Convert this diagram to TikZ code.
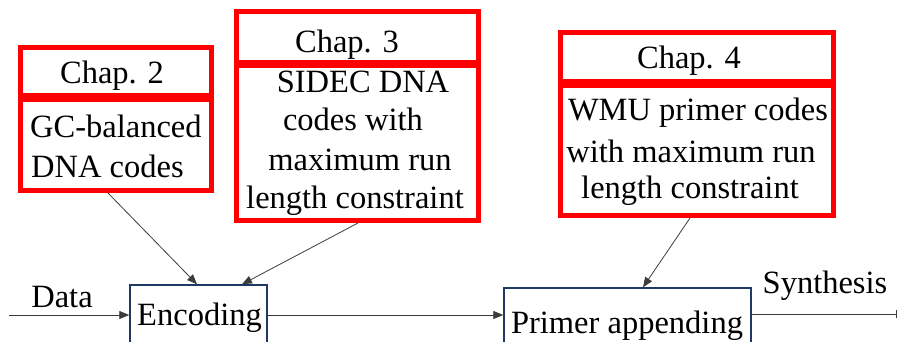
\documentclass[tikz,border=0pt]{standalone}
\usepackage{fontspec}
\setmainfont{Liberation Serif}
\newfontfamily\timesface{Liberation Serif}
\usetikzlibrary{fit,arrows.meta}
\definecolor{chapred}{RGB}{255,0,0}
\definecolor{stepblue}{RGB}{31,56,100}
\definecolor{wire}{RGB}{60,60,60}
\begin{document}
\begin{tikzpicture}[x=1pt,y=-1pt,
  every node/.style={font=\timesface\fontsize{32.5}{39}\selectfont},
  redbox/.style={draw=chapred,line width=5pt,inner sep=0pt},
  stepbox/.style={draw=stepblue,line width=1.4pt,inner sep=0pt},
  txt/.style={inner sep=0pt,anchor=base},
  wirearrow/.style={draw=wire,line width=0.8pt,-{Triangle[length=10pt,width=8pt]}}]
\useasboundingbox (0,0) rectangle (897,341);

% chapter boxes
\node[redbox,fit={(20.5,47.5) (211.5,95)}] (c2t) {};
\node[redbox,fit={(20.5,99) (211.5,190.5)}] (c2b) {};
\node[redbox,fit={(236.5,11.5) (478.5,62)}] (c3t) {};
\node[redbox,fit={(236.5,65) (478.5,220.5)}] (c3b) {};
\node[redbox,fit={(560.5,32.5) (833.5,81)}] (c4t) {};
\node[redbox,fit={(560.5,85) (833.5,215.5)}] (c4b) {};

% chapter texts
\node[txt] (c2title) at (112,83) {Chap. 2};
\node[txt,anchor=base west] (c2l1) at (30,137) {GC-balanced};
\node[txt,anchor=base west] (c2l2) at (31,177) {DNA codes};

\node[txt] (c3title) at (347,52) {Chap. 3};
\node[txt] (c3l1) at (363,92) {SIDEC DNA};
\node[txt] (c3l2) at (353,130) {codes with};
\node[txt] (c3l3) at (360,170) {maximum run};
\node[txt] (c3l4) at (355,208) {length constraint};

\node[txt] (c4title) at (689,68) {Chap. 4};
\node[txt] (c4l1) at (698,120) {WMU primer codes};
\node[txt] (c4l2) at (691,162) {with maximum run};
\node[txt] (c4l3) at (690,198) {length constraint};

% processing steps
\node[stepbox,fit={(130,285) (267,350)}] (enc) {};
\node[txt] (enctext) at (199.5,325) {Encoding};
\node[stepbox,fit={(504,288) (751,350)}] (prim) {};
\node[txt] (primtext) at (627,333) {Primer appending};

% flow labels
\node[txt] (datalabel) at (62,307) {Data};
\node[txt] (synlabel) at (825,293) {Synthesis};

% flow
\coordinate (din) at (9,315);
\coordinate (dout) at (906,314);
\draw[wirearrow] (din) -- (din -| enc.west);
\draw[wirearrow] (enc.east |- din) -- (prim.west |- din);
\draw[wirearrow] (prim.east |- dout) -- (dout);

% chapter contributions
\draw[wirearrow] ([xshift=-8pt]c2b.south) -- ([xshift=-1.5pt]enc.north);
\draw[wirearrow] ([xshift=0.5pt]c3b.south) -- ([xshift=43.5pt]enc.north);
\draw[wirearrow] ([xshift=-7pt]c4b.south) -- ([xshift=15.5pt]prim.north);
\end{tikzpicture}
\end{document}
